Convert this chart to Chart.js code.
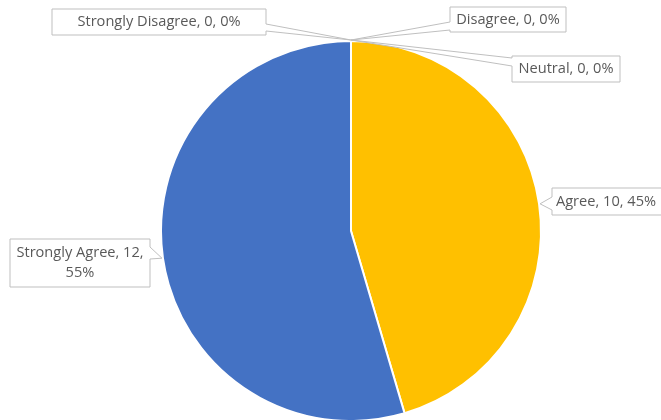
<!DOCTYPE html>
<html>
<head>
<meta charset="utf-8">
<script src="https://cdn.jsdelivr.net/npm/chart.js@4.4.0/dist/chart.umd.min.js"></script>
<style>
  html, body { margin: 0; padding: 0; background: #fff; }
  #wrap { width: 661px; height: 420px; }
</style>
</head>
<body>
<div id="wrap"><canvas id="chart" width="661" height="420"></canvas></div>
<script>
const categories = ['Strongly Disagree', 'Disagree', 'Neutral', 'Agree', 'Strongly Agree'];
const counts = [0, 0, 0, 10, 12];
const sliceColors = ['#A5A5A5', '#ED7D31', '#5B9BD5', '#FFC000', '#4472C4'];

// callout boxes: x, y, w, h, side of the wedge, wedge base (from, to)
const callouts = [
  { x: 52, y: 9, w: 214, h: 26, side: 'right', b0: 24, b1: 31 },
  { x: 450, y: 7, w: 116, h: 25, side: 'left', b0: 22, b1: 30 },
  { x: 512, y: 56, w: 108, h: 26, side: 'left', b0: 58, b1: 66 },
  { x: 552, y: 188, w: 114, h: 27, side: 'left', b0: 197, b1: 210 },
  { x: 10, y: 239, w: 140, h: 48, side: 'right', b0: 247, b1: 259, wrap: true }
];

const total = counts.reduce((a, b) => a + b, 0);

function labelLines(i) {
  const pct = Math.round(counts[i] / total * 100) + '%';
  const c = callouts[i];
  if (c.wrap) return [categories[i] + ', ' + counts[i] + ',', pct];
  return [categories[i] + ', ' + counts[i] + ', ' + pct];
}

const calloutPlugin = {
  id: 'callouts',
  afterDatasetsDraw(chart) {
    const ctx = chart.ctx;
    const meta = chart.getDatasetMeta(0);
    ctx.save();
    meta.data.forEach((arc, i) => {
      const c = callouts[i];
      const mid = (arc.startAngle + arc.endAngle) / 2;
      const tx = arc.x + Math.cos(mid) * (arc.outerRadius + 1);
      const ty = arc.y + Math.sin(mid) * (arc.outerRadius + 1);
      ctx.beginPath();
      ctx.moveTo(c.x, c.y);
      ctx.lineTo(c.x + c.w, c.y);
      if (c.side === 'right') {
        ctx.lineTo(c.x + c.w, c.b0);
        ctx.lineTo(tx, ty);
        ctx.lineTo(c.x + c.w, c.b1);
      }
      ctx.lineTo(c.x + c.w, c.y + c.h);
      ctx.lineTo(c.x, c.y + c.h);
      if (c.side === 'left') {
        ctx.lineTo(c.x, c.b1);
        ctx.lineTo(tx, ty);
        ctx.lineTo(c.x, c.b0);
      }
      ctx.closePath();
      ctx.fillStyle = '#ffffff';
      ctx.fill();
      ctx.strokeStyle = '#BFBFBF';
      ctx.lineWidth = 1;
      ctx.stroke();

      const lines = labelLines(i);
      ctx.fillStyle = '#595959';
      ctx.font = '14.6px "Open Sans", sans-serif';
      ctx.textAlign = 'center';
      ctx.textBaseline = 'middle';
      const lh = 20;
      const cy = c.y + c.h / 2 - (lines.length - 1) * lh / 2;
      lines.forEach((t, k) => ctx.fillText(t, c.x + c.w / 2 + (c.x + c.w > 661 ? -3 : 0), cy + k * lh));
    });
    ctx.restore();
  }
};

new Chart(document.getElementById('chart'), {
  type: 'pie',
  data: {
    labels: categories,
    datasets: [{
      data: counts,
      backgroundColor: sliceColors,
      borderColor: '#ffffff',
      borderWidth: 2,
      radius: 190
    }]
  },
  options: {
    responsive: false,
    animation: false,
    layout: { padding: { left: 41, right: 0, top: 42, bottom: 0 } },
    plugins: {
      legend: { display: false },
      tooltip: { enabled: false }
    }
  },
  plugins: [calloutPlugin]
});
</script>
</body>
</html>
